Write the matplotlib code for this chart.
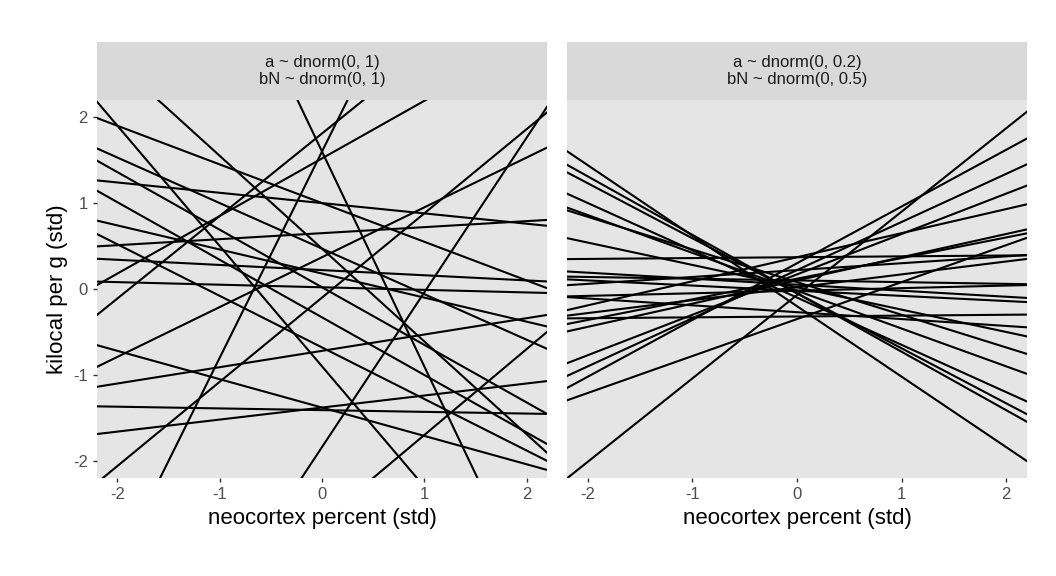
import matplotlib.pyplot as plt
import numpy as np

plt.rcParams['font.family'] = ['Liberation Sans', 'DejaVu Sans']
plt.rcParams['axes.unicode_minus'] = False

# prior 1: a ~ dnorm(0,1), bN ~ dnorm(0,1)
a_wide = [0.47, 0.02, 1.0, 0.65, -1.41, -1.38, 1.52, 1.81, 1.6, 1.6, 0.47, -0.1,
          -1.84, 0.18, 0.22, -1.38, 0.37, -0.72, -0.33, -0.68, -2.7, 1.0, 0.02, -0.9]
b_wide = [-0.53, -0.67, -0.12, 0.07, -0.02, 0.14, 0.67, 0.96, 2.4, -2.5, -1.08, 0.98,
          1.8, -0.28, -0.06, -0.33, 0.58, 0.19, -0.67, -0.6, 1.0, -0.45, -0.03, -1.4]
# prior 2: a ~ dnorm(0,0.2), bN ~ dnorm(0,0.5)
a_tight = [-0.2, -0.05, -0.05, -0.1, -0.02, 0.08, 0.05, 0.1, -0.02, 0.22, -0.02, 0.02,
           -0.32, 0.1, 0.17, 0.22, 0.3, -0.35, -0.07, 0.37, -0.27, 0.37, 0.12, 0.02]
b_tight = [-0.82, -0.68, -0.64, -0.55, -0.44, -0.38, -0.07, -0.02, -0.06, 0.08, 0.03, 0.15,
           0.01, 0.27, 0.47, 0.56, 0.66, 0.43, 0.97, 0.01, -0.08, 0.28, 0.24, -0.26]

titles = ["a ~ dnorm(0, 1)\nbN ~ dnorm(0, 1)", "a ~ dnorm(0, 0.2)\nbN ~ dnorm(0, 0.5)"]
panels = [(a_wide, b_wide), (a_tight, b_tight)]

W, H = 1056, 576
fig = plt.figure(figsize=(W / 100, H / 100), dpi=100)
lefts = [97, 567]
xs = np.array([-2.2, 2.2])

for i, (a, b) in enumerate(panels):
    x0 = lefts[i]
    w = 450 if i == 0 else 460
    ax = fig.add_axes([x0 / W, (H - 478) / H, w / W, 378 / H])
    ax.set_facecolor('#E5E5E5')
    for ai, bi in zip(a, b):
        ax.plot(xs, ai + bi * xs, color='black', lw=1.5)
    ax.set_xlim(-2.2, 2.2)
    ax.set_ylim(-2.2, 2.2)
    ax.set_xticks([-2, -1, 0, 1, 2])
    ax.set_yticks([-2, -1, 0, 1, 2])
    for s in ax.spines.values():
        s.set_visible(False)
    ax.tick_params(colors='#333333', labelcolor='#4D4D4D', labelsize=12, length=3, width=1)
    ax.set_xlabel('neocortex percent (std)', fontsize=16, labelpad=4)
    if i == 0:
        ax.set_ylabel('kilocal per g (std)', fontsize=16, labelpad=4)
    else:
        ax.tick_params(axis='y', left=False, labelleft=False)
    sax = fig.add_axes([x0 / W, (H - 100) / H, w / W, 58 / H])
    sax.set_facecolor('#D9D9D9')
    sax.set_xticks([]); sax.set_yticks([])
    for s in sax.spines.values():
        s.set_visible(False)
    sax.text(0.5, 0.5, titles[i], ha='center', va='center', fontsize=12,
             color='#1A1A1A', linespacing=1.2, transform=sax.transAxes)

fig.savefig('out.png', dpi=100)
